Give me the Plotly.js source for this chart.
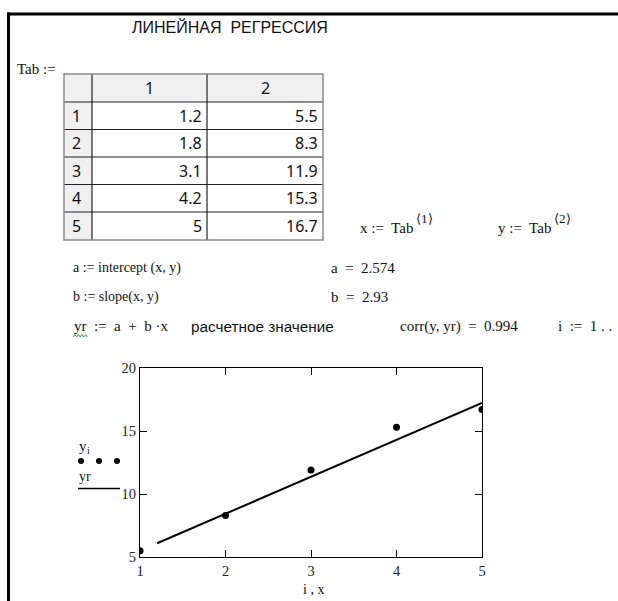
<!DOCTYPE html>
<html>
<head>
<meta charset="utf-8">
<script src="https://cdn.plot.ly/plotly-3.0.1.min.js"></script>
<style>
  html, body { margin: 0; padding: 0; background: #fff; }
  #sheet { width: 618px; height: 601px; }
</style>
</head>
<body>
<div id="sheet"></div>
<script>
// Worksheet data: Tab columns 1 and 2
const rowIndex = [1, 2, 3, 4, 5];
const colHeaders = ['1', '2'];
const xs = [1.2, 1.8, 3.1, 4.2, 5];
const ys = [5.5, 8.3, 11.9, 15.3, 16.7];

// Regression results
const a = 2.574;
const b = 2.93;
const corrValue = 0.994;
// yr = a + b·x evaluated at each x
const yr = [6.090, 7.848, 11.657, 14.880, 17.224];

// Axis ticks
const xTicks = [1, 2, 3, 4, 5];
const yTicks = [5, 10, 15, 20];

const W = 618, H = 601;
const px = v => v / W;
const py = v => 1 - v / H;

const serif = 'Liberation Serif, Times New Roman, serif';
const sans = 'Liberation Sans, Arial, sans-serif';
const tableFont = 'Noto Sans, Tahoma, sans-serif';
const ink = '#111';
const sp = '&nbsp;';

const annotations = [];
const shapes = [];

function label(text, x, y, opts) {
  opts = opts || {};
  annotations.push({
    text: text, xref: 'paper', yref: 'paper',
    x: px(x), y: py(y),
    xanchor: opts.xanchor || 'left', yanchor: 'middle',
    showarrow: false, borderpad: 0,
    font: { family: opts.family || serif, size: opts.size || 15, color: opts.color || ink }
  });
}
function line(x0, y0, x1, y1, color, width) {
  shapes.push({ type: 'line', xref: 'paper', yref: 'paper',
    x0: px(x0), y0: py(y0), x1: px(x1), y1: py(y1),
    line: { color: color, width: width } });
}
function rect(x0, y0, x1, y1, fill) {
  shapes.push({ type: 'rect', xref: 'paper', yref: 'paper',
    x0: px(x0), y0: py(y0), x1: px(x1), y1: py(y1),
    fillcolor: fill, line: { width: 0 }, layer: 'below' });
}

// Page frame
line(7, 14, 618, 14, '#000', 3);
line(8.5, 12.5, 8.5, 601, '#000', 3);

// Heading
label('ЛИНЕЙНАЯ' + sp + sp + 'РЕГРЕССИЯ', 131, 27, { family: sans, size: 16 });

// Matrix Tab
label('Tab :=', 16, 69);
const colX = [64, 92, 207, 323];
const rowY = [74, 102, 129.5, 157, 184.5, 212, 240];
rect(colX[0], rowY[0], colX[3], rowY[1], '#f0f0f0');
rect(colX[0], rowY[1], colX[1], rowY[6], '#f0f0f0');
for (let i = 1; i < rowY.length - 1; i++) line(colX[0], rowY[i], colX[3], rowY[i], '#222', 1.2);
for (let j = 1; j < colX.length - 1; j++) line(colX[j], rowY[0], colX[j], rowY[6], '#222', 1.2);
shapes.push({ type: 'rect', xref: 'paper', yref: 'paper',
  x0: px(colX[0]), y0: py(rowY[0]), x1: px(colX[3]), y1: py(rowY[6]),
  line: { color: '#8a8a8a', width: 1.5 } });

colHeaders.forEach((h, j) => {
  label(h, (colX[j + 1] + colX[j + 2]) / 2, (rowY[0] + rowY[1]) / 2,
        { family: tableFont, size: 16, xanchor: 'center' });
});
rowIndex.forEach((n, i) => {
  const yc = (rowY[i + 1] + rowY[i + 2]) / 2;
  label(String(n), 71, yc, { family: tableFont, size: 16 });
  label(String(xs[i]), colX[2] - 4, yc, { family: tableFont, size: 16, xanchor: 'right' });
  label(String(ys[i]), colX[3] - 4, yc, { family: tableFont, size: 16, xanchor: 'right' });
});

// Column extraction
label('x' + sp + ':=' + sp + ' Tab', 359, 228);
label('⟨1⟩', 415, 218, { size: 13 });
label('y' + sp + ':=' + sp + ' Tab', 497, 228);
label('⟨2⟩', 553, 218, { size: 13 });

// Definitions and results
label('a := intercept (x, y)', 72, 268, { size: 14 });
label('a' + sp + ' =' + sp + ' ' + a, 330, 268);
label('b := slope(x, y)', 72, 297, { size: 14 });
label('b' + sp + ' =' + sp + ' ' + b, 330, 297);
label('yr' + sp + ' :=' + sp + ' a' + sp + ' +' + sp + ' b ·x', 73, 326);
label('расчетное значение', 190, 326, { family: sans, size: 15.3 });
label('corr(y,' + sp + 'yr)' + sp + ' =' + sp + ' ' + corrValue, 399, 326);
label('i' + sp + ' :=' + sp + ' 1' + sp + '. .', 557, 326);

// green squiggle under "yr"
shapes.push({ type: 'path', xref: 'paper', yref: 'paper',
  path: (() => {
    let d = '';
    for (let k = 0; k <= 8; k++) {
      const xx = px(73 + k * 1.8), yy = py(k % 2 ? 334.5 : 337);
      d += (k ? ' L' : 'M') + xx + ',' + yy;
    }
    return d;
  })(),
  line: { color: '#3a9a3a', width: 1 } });

// Trace labels beside the graph
label('y', 78, 446, { size: 15 });
label('i', 86, 450, { size: 10 });
[81, 99, 117].forEach(cx => {
  shapes.push({ type: 'circle', xref: 'paper', yref: 'paper',
    x0: px(cx - 3), x1: px(cx + 3), y0: py(461 - 3), y1: py(461 + 3),
    fillcolor: '#000', line: { width: 0 } });
});
label('yr', 78, 476, { size: 14 });
line(78, 488.5, 120, 488.5, '#000', 1.5);

// Axis title
label('i , x', 313, 589, { xanchor: 'center', size: 14 });

const traces = [
  {
    x: rowIndex, y: ys, type: 'scatter', mode: 'markers', name: 'yi',
    marker: { color: '#000', size: 7 }, cliponaxis: true, hoverinfo: 'skip'
  },
  {
    x: xs, y: yr, type: 'scatter', mode: 'lines', name: 'yr',
    line: { color: '#000', width: 2 }, cliponaxis: true, hoverinfo: 'skip'
  }
];

const axisCommon = {
  showline: true, linecolor: '#000', linewidth: 1, mirror: 'ticks',
  ticks: 'inside', ticklen: 7, tickwidth: 1, tickcolor: '#000',
  showgrid: false, zeroline: false, fixedrange: true,
  tickfont: { family: serif, size: 14.5, color: '#222' }
};

const layout = {
  width: W, height: H,
  margin: { l: 0, r: 0, t: 0, b: 0, pad: 0 },
  paper_bgcolor: '#fff', plot_bgcolor: '#fff',
  showlegend: false,
  xaxis: Object.assign({}, axisCommon, {
    domain: [px(140), px(482)], range: [1, 5], tickvals: xTicks, ticklabelstandoff: 1
  }),
  yaxis: Object.assign({}, axisCommon, {
    domain: [py(557), py(368)], range: [5, 20], tickvals: yTicks, ticklabelstandoff: 0
  }),
  annotations: annotations,
  shapes: shapes
};

Plotly.newPlot('sheet', traces, layout, { staticPlot: true, displayModeBar: false });
</script>
</body>
</html>
